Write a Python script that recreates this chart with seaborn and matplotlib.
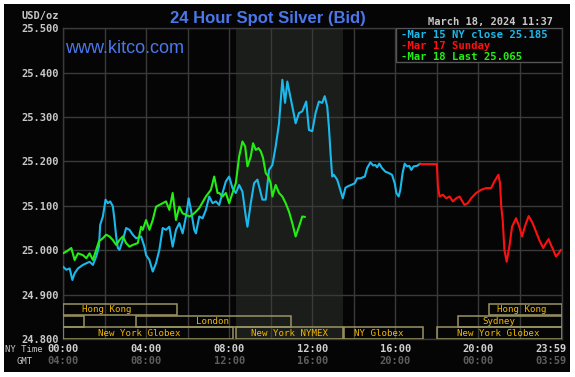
import numpy as np
import pandas as pd
import matplotlib
matplotlib.use("Agg")
import matplotlib.pyplot as plt
import matplotlib.transforms as mtransforms
from matplotlib.patches import Rectangle
import seaborn as sns

# ---------------- data ----------------
mar15_hours = [0.0, 0.16, 0.32, 0.45, 0.56, 0.72, 0.96, 1.28, 1.44, 1.6, 1.73, 1.79, 1.92, 2.05, 2.16,
               2.27, 2.4, 2.48, 2.56, 2.64, 2.72, 2.88, 3.04, 3.2, 3.36, 3.52, 3.76, 3.92, 4.0, 4.16,
               4.32, 4.48, 4.64, 4.8, 4.96, 5.12, 5.28, 5.44, 5.6, 5.76, 5.92, 6.05, 6.16, 6.32, 6.4,
               6.56, 6.72, 6.88, 7.04, 7.2, 7.36, 7.52, 7.68, 7.84, 8.0, 8.16, 8.32, 8.48, 8.64, 8.8,
               8.88, 9.04, 9.2, 9.36, 9.52, 9.6, 9.76, 9.92, 10.08, 10.24, 10.4, 10.56, 10.69, 10.8,
               10.91, 11.04, 11.2, 11.36, 11.52, 11.71, 11.84, 12.0, 12.16, 12.32, 12.48, 12.6, 12.72,
               12.8, 12.88, 12.96, 13.04, 13.2, 13.28, 13.47, 13.6, 13.76, 13.92, 14.05, 14.16, 14.32,
               14.53, 14.64, 14.8, 14.93, 15.04, 15.12, 15.23, 15.36, 15.52, 15.68, 15.84, 15.97,
               16.05, 16.16, 16.24, 16.35, 16.45, 16.56, 16.67, 16.77, 16.88, 17.04, 17.2]
mar15_values = [24.963, 24.956, 24.959, 24.933, 24.948, 24.959, 24.967, 24.974, 24.967, 24.986, 25.008,
                25.057, 25.076, 25.114, 25.106, 25.110, 25.099, 25.068, 25.031, 25.005, 25.001, 25.023,
                25.050, 25.046, 25.035, 25.027, 25.031, 25.008, 24.989, 24.978, 24.952, 24.971, 25.001,
                25.050, 25.046, 25.053, 25.008, 25.046, 25.061, 25.038, 25.076, 25.117, 25.091, 25.046,
                25.038, 25.076, 25.072, 25.091, 25.121, 25.106, 25.110, 25.102, 25.129, 25.155, 25.166,
                25.140, 25.129, 25.147, 25.132, 25.076, 25.053, 25.106, 25.151, 25.159, 25.129, 25.114,
                25.114, 25.181, 25.192, 25.234, 25.286, 25.384, 25.332, 25.380, 25.354, 25.324, 25.286,
                25.309, 25.313, 25.335, 25.271, 25.268, 25.309, 25.335, 25.332, 25.347, 25.324, 25.279,
                25.219, 25.166, 25.170, 25.159, 25.147, 25.117, 25.141, 25.145, 25.148, 25.151, 25.162,
                25.162, 25.166, 25.185, 25.198, 25.191, 25.192, 25.187, 25.195, 25.185, 25.177, 25.174,
                25.170, 25.151, 25.129, 25.121, 25.136, 25.174, 25.195, 25.189, 25.190, 25.181, 25.189,
                25.190, 25.195]

mar17_hours = [17.2, 17.95, 18.0, 18.05, 18.13, 18.29, 18.45, 18.61, 18.77, 18.93, 19.09, 19.33, 19.49,
               19.65, 19.89, 20.13, 20.37, 20.61, 20.77, 20.96, 21.04, 21.1, 21.17, 21.25, 21.36,
               21.49, 21.62, 21.81, 21.97, 22.1, 22.26, 22.42, 22.61, 22.77, 22.93, 23.12, 23.25,
               23.38, 23.49, 23.6, 23.73, 23.86, 23.97]
mar17_values = [25.194, 25.194, 25.194, 25.144, 25.121, 25.125, 25.117, 25.121, 25.110, 25.117, 25.121,
                25.102, 25.106, 25.117, 25.129, 25.136, 25.140, 25.140, 25.155, 25.170, 25.151, 25.098,
                25.068, 25.001, 24.974, 25.008, 25.053, 25.072, 25.053, 25.031, 25.057, 25.077, 25.061,
                25.042, 25.023, 25.005, 25.016, 25.025, 25.012, 25.001, 24.986, 24.993, 25.001]

mar18_hours = [0.0, 0.16, 0.4, 0.56, 0.72, 0.96, 1.12, 1.28, 1.44, 1.6, 1.73, 1.92, 2.08, 2.24, 2.4,
               2.56, 2.72, 2.88, 3.04, 3.2, 3.36, 3.6, 3.76, 3.84, 4.0, 4.16, 4.32, 4.48, 4.8, 4.96,
               5.12, 5.28, 5.44, 5.6, 5.76, 5.92, 6.08, 6.24, 6.4, 6.56, 6.88, 7.12, 7.28, 7.44, 7.52,
               7.68, 7.84, 8.0, 8.16, 8.32, 8.48, 8.64, 8.77, 8.88, 9.04, 9.15, 9.28, 9.41, 9.52, 9.63,
               9.76, 9.89, 10.0, 10.08, 10.24, 10.4, 10.56, 10.72, 10.88, 11.04, 11.2, 11.36, 11.52,
               11.65]
mar18_values = [24.993, 24.997, 25.005, 24.978, 24.993, 24.989, 24.982, 24.993, 24.978, 25.001, 25.020,
                25.027, 25.035, 25.031, 25.023, 25.012, 25.023, 25.031, 25.016, 25.008, 25.012, 25.016,
                25.053, 25.046, 25.068, 25.046, 25.068, 25.098, 25.106, 25.110, 25.091, 25.129, 25.068,
                25.098, 25.083, 25.080, 25.076, 25.080, 25.087, 25.095, 25.121, 25.136, 25.166, 25.129,
                25.129, 25.121, 25.129, 25.106, 25.129, 25.151, 25.211, 25.245, 25.234, 25.189, 25.211,
                25.241, 25.226, 25.230, 25.223, 25.208, 25.174, 25.166, 25.151, 25.121, 25.147, 25.129,
                25.121, 25.106, 25.087, 25.061, 25.031, 25.053, 25.076, 25.075]

legend_labels = ["-Mar 15 NY close 25.185", "-Mar 17 Sunday", "-Mar 18 Last 25.065"]
y_ticks = [24.8, 24.9, 25.0, 25.1, 25.2, 25.3, 25.4, 25.5]
ny_time_labels = ["00:00", "04:00", "08:00", "12:00", "16:00", "20:00", "23:59"]
gmt_labels = ["04:00", "08:00", "12:00", "16:00", "20:00", "00:00", "03:59"]
time_label_hours = [0, 4, 8, 12, 16, 20, 23.5]

nymex_window = (8.33, 13.5)
# sessions: row (0 = top), start hour, end hour, label, label hour
session_rows = [0, 0, 1, 1, 1, 2, 2, 2, 2]
session_start = [0.0, 20.5, 0.0, 3.5, 19.0, 0.0, 8.33, 13.55, 18.0]
session_end = [5.5, 24.0, 1.0, 11.0, 24.0, 8.2, 13.5, 17.33, 24.0]
session_names = ["Hong Kong", "Hong Kong", "", "London", "Sydney",
                 "New York Globex", "New York NYMEX", "NY Globex", "New York Globex"]
session_label_at = [2.12, 22.07, 0.5, 7.18, 21.0, 3.66, 10.9, 15.2, 20.97]

# ---------------- style ----------------
sns.set_style("dark")
plt.rcParams['font.family'] = ['DejaVu Sans Mono']

W, H = 575, 377
fig = plt.figure(figsize=(W / 100, H / 100), dpi=100, facecolor='white')
fig.patches.append(Rectangle((4 / W, 5 / H), 566 / W, 368 / H, transform=fig.transFigure,
                             facecolor='#050505', edgecolor='none', zorder=-10))

def fx(px):
    return px / W

def fy(py):
    return 1 - py / H

ax = fig.add_axes([fx(63), fy(339), (561.5 - 63) / W, (339 - 28.3) / H])
ax.set_zorder(1)
ax.set_facecolor('#050505')
ax.set_xlim(0, 24)
ax.set_ylim(24.8, 25.5)

ax.axvspan(nymex_window[0], nymex_window[1], color='#1a1d1a', zorder=0.3, lw=0)

# lines
df15 = pd.DataFrame({"h": mar15_hours, "v": mar15_values})
df17 = pd.DataFrame({"h": mar17_hours, "v": mar17_values})
df18 = pd.DataFrame({"h": mar18_hours, "v": mar18_values})
sns.lineplot(data=df15, x="h", y="v", ax=ax, color='#19b9ec', linewidth=1.5, estimator=None, sort=False, zorder=3)
sns.lineplot(data=df17, x="h", y="v", ax=ax, color='#ff1010', linewidth=1.5, estimator=None, sort=False, zorder=3)
sns.lineplot(data=df18, x="h", y="v", ax=ax, color='#22ee11', linewidth=1.5, estimator=None, sort=False, zorder=4)
ax.set_xlabel("")
ax.set_ylabel("")
ax.set_xlim(0, 24)
ax.set_ylim(24.8, 25.5)

ax.set_xticks(np.arange(0, 25, 2))
ax.set_yticks(y_ticks)
ax.set_yticklabels([f"{v:.3f}" for v in y_ticks])
ax.grid(True, color='#3a3a3a', linewidth=1)
ax.set_axisbelow(True)
ax.tick_params(axis='x', length=0, labelbottom=False)
ax.tick_params(axis='y', length=0, pad=3, labelsize=7.5, labelcolor='#c8c8c8')
for lab in ax.get_yticklabels():
    lab.set_fontweight('bold')
for s in ax.spines.values():
    s.set_visible(True)
    s.set_color('#3a3a3a')
    s.set_linewidth(1)

# session boxes
row_bottoms = [24.853, 24.827, 24.801]
row_h = 0.025
for r, s0, s1, name, lx in zip(session_rows, session_start, session_end, session_names, session_label_at):
    b = row_bottoms[r]
    ax.add_patch(Rectangle((s0, b), s1 - s0, row_h, fill=False, edgecolor='#9a9462', lw=1.1, zorder=5))
    if name:
        ax.text(lx, b + row_h / 2, name, color='#f0b800', fontsize=6.6, ha='center', va='center', zorder=6)

# legend box
ax.add_patch(Rectangle((0.668, 0.892), 0.332, 0.108, transform=ax.transAxes, facecolor='#050505',
                       edgecolor='#555555', lw=1, zorder=7))
leg_colors = ['#19b9ec', '#ff1010', '#22ee11']
for i, (t, c) in enumerate(zip(legend_labels, leg_colors)):
    fig.text(fx(401), fy(34.5 + i * 11.2), t, color=c, fontsize=7.7, fontweight='bold', ha='left',
             va='center', zorder=8)

# titles
fig.text(fx(268), fy(18), "24 Hour Spot Silver (Bid)", color='#4a78ec', fontsize=12, fontweight='bold',
         family=['Liberation Sans', 'DejaVu Sans'], ha='center', va='center')
fig.text(fx(65), fy(48.5), "www.kitco.com", color='#4a78ec', fontsize=13,
         family=['Liberation Sans', 'DejaVu Sans'], ha='left', va='center', zorder=8)
fig.text(fx(59), fy(15.5), "USD/oz", color='#c8c8c8', fontsize=7.5, fontweight='bold', ha='right', va='center')
fig.text(fx(553), fy(22.5), "March 18, 2024 11:37", color='#c8c8c8', fontsize=7.5, fontweight='bold',
         ha='right', va='center')

# time labels
trans = mtransforms.blended_transform_factory(ax.transData, fig.transFigure)
for hx, ny, gmt in zip(time_label_hours, ny_time_labels, gmt_labels):
    ax.text(hx, fy(349.5), ny, transform=trans, color='#d0d0d0', fontsize=7.5, fontweight='bold',
            ha='center', va='center', clip_on=False)
    ax.text(hx, fy(361.5), gmt, transform=trans, color='#5e5e5e', fontsize=7.5, fontweight='bold',
            ha='center', va='center', clip_on=False)
fig.text(fx(43), fy(349.5), "NY Time", color='#c8c8c8', fontsize=6.4, ha='right', va='center')
fig.text(fx(33), fy(361.5), "GMT", color='#c8c8c8', fontsize=6.4, ha='right', va='center')

fig.savefig("out.png", dpi=100, facecolor='white')
